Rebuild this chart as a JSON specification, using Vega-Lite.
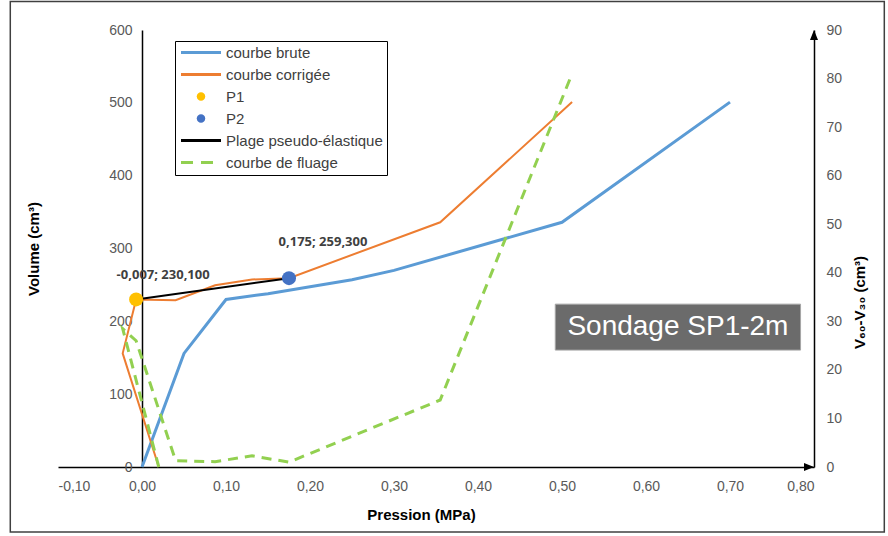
{
  "$schema": "https://vega.github.io/schema/vega-lite/v6.json",
  "width": 756,
  "height": 437,
  "autosize": {"type": "none"},
  "padding": {"left": 58, "top": 30, "right": 74, "bottom": 69},
  "background": "white",
  "config": {
    "view": {"stroke": null},
    "font": "Liberation Sans",
    "axis": {
      "grid": false,
      "domainColor": "#000000",
      "domainWidth": 1.5,
      "labelColor": "#595959",
      "labelFontSize": 14,
      "labelFont": "Liberation Sans",
      "titleFont": "Liberation Sans",
      "titleFontSize": 15,
      "titleFontWeight": "bold",
      "titleColor": "#000000"
    }
  },
  "datasets": {
    "courbes": [
      {"s": "courbe brute", "i": 0, "p": 0.0, "v": 0},
      {"s": "courbe brute", "i": 1, "p": 0.05, "v": 156},
      {"s": "courbe brute", "i": 2, "p": 0.10, "v": 230},
      {"s": "courbe brute", "i": 3, "p": 0.15, "v": 238},
      {"s": "courbe brute", "i": 4, "p": 0.20, "v": 247.5},
      {"s": "courbe brute", "i": 5, "p": 0.25, "v": 257},
      {"s": "courbe brute", "i": 6, "p": 0.30, "v": 270},
      {"s": "courbe brute", "i": 7, "p": 0.50, "v": 336},
      {"s": "courbe brute", "i": 8, "p": 0.70, "v": 501},
      {"s": "courbe corrigée", "i": 0, "p": 0.02, "v": 0},
      {"s": "courbe corrigée", "i": 1, "p": -0.023, "v": 156},
      {"s": "courbe corrigée", "i": 2, "p": -0.007, "v": 230.1},
      {"s": "courbe corrigée", "i": 3, "p": 0.04, "v": 229},
      {"s": "courbe corrigée", "i": 4, "p": 0.087, "v": 249.5},
      {"s": "courbe corrigée", "i": 5, "p": 0.131, "v": 257.5},
      {"s": "courbe corrigée", "i": 6, "p": 0.175, "v": 259.3},
      {"s": "courbe corrigée", "i": 7, "p": 0.355, "v": 336},
      {"s": "courbe corrigée", "i": 8, "p": 0.512, "v": 501},
      {"s": "Plage pseudo-élastique", "i": 0, "p": -0.007, "v": 230.1},
      {"s": "Plage pseudo-élastique", "i": 1, "p": 0.175, "v": 259.3}
    ],
    "points": [
      {"s": "P1", "p": -0.007, "v": 230.1, "label": "-0,007; 230,100"},
      {"s": "P2", "p": 0.175, "v": 259.3, "label": "0,175; 259,300"}
    ],
    "fluage": [
      {"s": "courbe de fluage", "i": 0, "p": 0.02, "f": 0},
      {"s": "courbe de fluage", "i": 1, "p": -0.023, "f": 28.5},
      {"s": "courbe de fluage", "i": 2, "p": -0.007, "f": 26},
      {"s": "courbe de fluage", "i": 3, "p": 0.04, "f": 1.3},
      {"s": "courbe de fluage", "i": 4, "p": 0.087, "f": 1.1},
      {"s": "courbe de fluage", "i": 5, "p": 0.131, "f": 2.3},
      {"s": "courbe de fluage", "i": 6, "p": 0.175, "f": 1.0},
      {"s": "courbe de fluage", "i": 7, "p": 0.355, "f": 13.8},
      {"s": "courbe de fluage", "i": 8, "p": 0.512, "f": 81}
    ]
  },
  "layer": [
    {
      "layer": [
        {
          "data": {"values": [{}]},
          "mark": {"type": "rect", "fill": null, "stroke": "#404040", "strokeWidth": 1.5},
          "encoding": {
            "x": {"datum": -0.1568, "type": "quantitative", "scale": {"domain": [-0.1, 0.8], "nice": false, "zero": false},
              "axis": {
                "orient": "bottom",
                "values": [-0.1, 0, 0.1, 0.2, 0.3, 0.4, 0.5, 0.6, 0.7, 0.8],
                "labelExpr": "replace(replace(format(datum.value, '.2f'), '.', ','), '−', '-')",
                "ticks": false,
                "tickSize": 0,
                "labelPadding": 12,
                "title": "Pression (MPa)",
                "titleX": 363,
                "titlePadding": 14
              }},
            "x2": {"datum": 0.8837},
            "y": {"datum": 639, "type": "quantitative", "scale": {"domain": [0, 600], "nice": false, "zero": false},
              "axis": {
                "orient": "left",
                "offset": -84,
                "values": [0, 100, 200, 300, 400, 500, 600],
                "ticks": false,
                "tickSize": 0,
                "labelPadding": 10,
                "title": "Volume (cm³)",
                "titlePadding": 67
              }},
            "y2": {"datum": -89.2}
          }
        },
        {
          "data": {"values": [{}]},
          "mark": {"type": "rect", "fill": "#6b6b6b", "stroke": "#a6a6a6", "strokeWidth": 1},
          "encoding": {
            "x": {"datum": 0.492, "type": "quantitative"},
            "x2": {"datum": 0.784},
            "y": {"datum": 223.6, "type": "quantitative"},
            "y2": {"datum": 160.5}
          }
        },
        {
          "data": {"values": [{"t": "Sondage SP1-2m"}]},
          "mark": {"type": "text", "fontSize": 28, "color": "#ffffff", "font": "Liberation Sans", "align": "center", "baseline": "middle"},
          "encoding": {
            "x": {"datum": 0.638, "type": "quantitative"},
            "y": {"datum": 192, "type": "quantitative"},
            "text": {"field": "t"}
          }
        },
        {
          "data": {"name": "courbes"},
          "transform": [{"filter": "datum.s === 'courbe brute'"}],
          "mark": {"type": "line", "strokeWidth": 3},
          "encoding": {
            "x": {"field": "p", "type": "quantitative"},
            "y": {"field": "v", "type": "quantitative"},
            "order": {"field": "i"},
            "color": {
              "field": "s",
              "type": "nominal",
              "scale": {
                "domain": ["courbe brute", "courbe corrigée", "P1", "P2", "Plage pseudo-élastique", "courbe de fluage"],
                "range": ["#5B9BD5", "#ED7D31", "#FFC000", "#4472C4", "#000000", "#92D050"]
              },
              "legend": {
                "orient": "none",
                "legendX": 117,
                "legendY": 11,
                "title": null,
                "strokeColor": "#000000",
                "fillColor": "#ffffff",
                "padding": 4,
                "rowPadding": 6,
                "labelFont": "Liberation Sans",
                "labelFontSize": 15,
                "labelColor": "#404040",
                "labelOffset": 32,
                "symbolSize": 100,
                "encode": {
                  "symbols": {
                    "update": {
                      "shape": {"signal": "indexof(['P1','P2'], datum.value) >= 0 ? 'M-0.85,0A0.85,0.85 0 1,0 0.85,0A0.85,0.85 0 1,0 -0.85,0Z' : 'M-4,0H4'"},
                      "size": {"value": 100},
                      "fill": {"signal": "indexof(['P1','P2'], datum.value) >= 0 ? scale('color', datum.value) : 'transparent'"},
                      "stroke": {"signal": "indexof(['P1','P2'], datum.value) >= 0 ? 'transparent' : scale('color', datum.value)"},
                      "strokeWidth": {"signal": "indexof(['P1','P2'], datum.value) >= 0 ? 0 : 3"},
                      "strokeDash": {"signal": "datum.value === 'courbe de fluage' ? [12, 8] : [1, 0]"},
                      "opacity": {"value": 1},
                      "xc": {"value": 22}
                    }
                  }
                }
              }
            }
          }
        },
        {
          "data": {"name": "courbes"},
          "transform": [{"filter": "datum.s === 'courbe corrigée'"}],
          "mark": {"type": "line", "strokeWidth": 2},
          "encoding": {
            "x": {"field": "p", "type": "quantitative"},
            "y": {"field": "v", "type": "quantitative"},
            "order": {"field": "i"},
            "color": {"field": "s", "type": "nominal"}
          }
        },
        {
          "data": {"name": "courbes"},
          "transform": [{"filter": "datum.s === 'Plage pseudo-élastique'"}],
          "mark": {"type": "line", "strokeWidth": 2},
          "encoding": {
            "x": {"field": "p", "type": "quantitative"},
            "y": {"field": "v", "type": "quantitative"},
            "order": {"field": "i"},
            "color": {"field": "s", "type": "nominal"}
          }
        },
        {
          "data": {"name": "points"},
          "mark": {"type": "point", "filled": true, "size": 196, "opacity": 1, "shape": "circle"},
          "encoding": {
            "x": {"field": "p", "type": "quantitative"},
            "y": {"field": "v", "type": "quantitative"},
            "color": {"field": "s", "type": "nominal"}
          }
        },
        {
          "data": {"name": "points"},
          "transform": [{"filter": "datum.s === 'P1'"}],
          "mark": {"type": "text", "font": "Open Sans", "fontWeight": "bold", "fontSize": 13, "color": "#404040", "dx": 27, "dy": -24, "align": "center", "baseline": "middle"},
          "encoding": {
            "x": {"field": "p", "type": "quantitative"},
            "y": {"field": "v", "type": "quantitative"},
            "text": {"field": "label"}
          }
        },
        {
          "data": {"name": "points"},
          "transform": [{"filter": "datum.s === 'P2'"}],
          "mark": {"type": "text", "font": "Open Sans", "fontWeight": "bold", "fontSize": 13, "color": "#404040", "dx": 34, "dy": -36, "align": "center", "baseline": "middle"},
          "encoding": {
            "x": {"field": "p", "type": "quantitative"},
            "y": {"field": "v", "type": "quantitative"},
            "text": {"field": "label"}
          }
        },
        {
          "data": {"values": [{}]},
          "mark": {"type": "point", "filled": true, "color": "#000000", "opacity": 1, "size": 64, "shape": "M0,0L-2.5,-1L-2.5,1Z"},
          "encoding": {
            "x": {"datum": 0.8, "type": "quantitative"},
            "y": {"datum": 0, "type": "quantitative"}
          }
        }
      ]
    },
    {
      "layer": [
        {
          "data": {"name": "fluage"},
          "mark": {"type": "line", "strokeWidth": 3, "strokeDash": [10, 7]},
          "encoding": {
            "x": {"field": "p", "type": "quantitative"},
            "y": {"field": "f", "type": "quantitative", "scale": {"domain": [0, 90], "nice": false, "zero": false},
              "axis": {
                "orient": "right",
                "values": [0, 10, 20, 30, 40, 50, 60, 70, 80, 90],
                "ticks": false,
                "tickSize": 0,
                "labelPadding": 12,
                "title": "V₆₀-V₃₀ (cm³)",
                "titleAngle": -90,
                "titleY": 272,
                "titlePadding": 26
              }},
            "order": {"field": "i"},
            "color": {"field": "s", "type": "nominal"}
          }
        },
        {
          "data": {"values": [{}]},
          "mark": {"type": "point", "filled": true, "color": "#000000", "opacity": 1, "size": 64, "shape": "M0,0L-1,2.5L1,2.5Z"},
          "encoding": {
            "x": {"datum": 0.8, "type": "quantitative"},
            "y": {"datum": 90, "type": "quantitative"}
          }
        }
      ]
    }
  ],
  "resolve": {"scale": {"y": "independent"}, "axis": {"y": "independent"}}
}
